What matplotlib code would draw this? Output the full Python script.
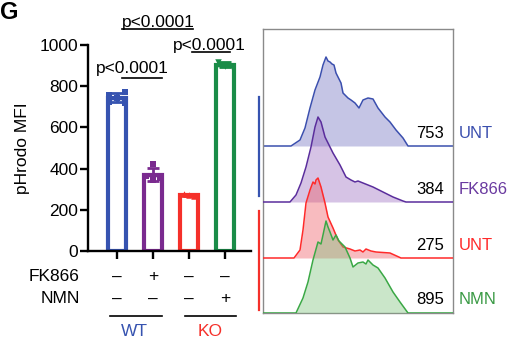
import numpy as np
import matplotlib.pyplot as plt

plt.rcParams['font.family'] = ['Liberation Sans', 'DejaVu Sans']

# bar chart data
groups = ['WT', 'WT', 'KO', 'KO']
fk866 = ['–', '+', '–', '–']
nmn = ['–', '–', '–', '+']
points = [[757, 772, 725, 718, 745],
          [420, 365, 355, 345],
          [278, 270, 268],
          [918, 898, 895]]
bar_colors = ['#3653b0', '#7a2a8f', '#f5302a', '#1a8c48']
markers = ['s', 's', '^', 'v']

# histogram data (channel, count) for each sample, top to bottom
hist_names = ['UNT', 'FK866', 'UNT', 'NMN']
hist_mfi = ['753', '384', '275', '895']
blue_x = [0, 28, 37, 42, 47, 52, 57, 60, 63, 65, 67, 69, 71, 73, 78, 80, 85, 88, 92, 96, 100, 105, 110, 115, 122, 127, 133, 140, 145, 190]
blue_y = [0, 0, 6, 18, 38, 56, 69, 81, 89, 85, 84, 82, 81, 73, 63, 53, 48, 46, 43, 38, 46, 48, 47, 38, 29, 24, 16, 8, 0, 0]
purple_x = [0, 27, 33, 38, 43, 48, 52, 55, 58, 62, 67, 70, 77, 83, 88, 92, 95, 100, 110, 120, 130, 140, 143, 190]
purple_y = [0, 0, 7, 19, 35, 55, 75, 85, 80, 65, 55, 49, 37, 25, 22, 20, 21, 19, 15, 10, 5, 1, 0, 0]
red_x = [0, 31, 37, 40, 43, 47, 50, 52, 53, 55, 58, 62, 65, 70, 75, 80, 87, 92, 97, 100, 103, 108, 113, 127, 138, 190]
red_y = [0, 0, 8, 28, 55, 68, 76, 74, 78, 80, 71, 55, 41, 30, 18, 11, 9, 7, 8, 6, 9, 7, 6, 5, 0, 0]
green_x = [0, 33, 40, 45, 50, 55, 58, 60, 63, 65, 67, 70, 73, 76, 78, 82, 87, 90, 95, 100, 103, 105, 108, 110, 115, 122, 130, 137, 145, 190]
green_y = [0, 0, 15, 31, 53, 71, 69, 78, 92, 86, 81, 73, 78, 72, 70, 66, 55, 46, 50, 51, 49, 53, 50, 48, 45, 35, 21, 11, 0, 0]
hist_x = [blue_x, purple_x, red_x, green_x]
hist_y = [blue_y, purple_y, red_y, green_y]
hist_line = ['#3b4fae', '#5a2d9c', '#ff2a2a', '#3aa845']
hist_fill = ['#6f6fbf', '#9a6bc0', '#ee5560', '#7cc27a']
label_colors = ['#3b4fae', '#6a3aa0', '#ff2a2a', '#3a9a45']

W, H = 523, 342
fig = plt.figure(figsize=(W / 100, H / 100), dpi=100)

def px_axes(x0, y0, x1, y1):
    return fig.add_axes([x0 / W, 1 - y1 / H, (x1 - x0) / W, (y1 - y0) / H])

# ---- bar chart ----
ax = px_axes(88, 45, 251, 251)
xpos = np.arange(4)
means = [np.mean(p) for p in points]
sds = [np.std(p, ddof=1) for p in points]
ax.bar(xpos, means, width=0.5, facecolor='white', edgecolor=bar_colors, linewidth=3.0, zorder=2)
offsets = [[-0.22, 0.22, -0.22, 0.22, 0.0], [0.0, -0.2, 0.2, 0.0], [-0.15, 0.0, 0.15], [-0.2, 0.0, 0.2]]
for i in range(4):
    ax.scatter(i + np.array(offsets[i]), points[i], marker=markers[i], s=22,
               color=bar_colors[i], zorder=3, linewidths=0)
    ax.errorbar(i, means[i], yerr=sds[i], color=bar_colors[i], capsize=4,
                elinewidth=2, capthick=2, zorder=4)
    ax.plot([i - 0.22, i + 0.22], [means[i], means[i]], color=bar_colors[i], lw=2.5, zorder=4)

ax.set_xlim(-0.8, 3.72)
ax.set_ylim(0, 1000)
ax.set_yticks([0, 200, 400, 600, 800, 1000])
ax.set_xticks(xpos)
ax.set_xticklabels([])
for s in ['top', 'right']:
    ax.spines[s].set_visible(False)
for s in ['left', 'bottom']:
    ax.spines[s].set_linewidth(1.7)
ax.tick_params(axis='y', length=5.5, width=1.7, pad=1.5, labelsize=12.5)
ax.tick_params(axis='x', length=6, width=1.7)
fig.text(23 / W, 1 - 148 / H, 'pHrodo MFI', rotation=90, ha='center', va='center', fontsize=12.5)

# significance
sig = [(0.14, 2.11, 1078, 1.14, 1087), (0.14, 1.25, 840, 0.44, 864), (2.08, 3.14, 966, 2.56, 976)]
for x0, x1, yl, xt, yt in sig:
    ax.plot([x0, x1], [yl, yl], color='black', lw=1.2, clip_on=False)
    ax.text(xt, yt, 'p<0.0001', ha='center', va='baseline', fontsize=12.5, clip_on=False)

# treatment table
ax.text(-1.03, -126, 'FK866', ha='right', va='center', fontsize=12.5)
ax.text(-1.03, -233, 'NMN', ha='right', va='center', fontsize=12.5)
for i in range(4):
    ax.text(i, -126, fk866[i], ha='center', va='center', fontsize=12.5)
    ax.text(i, -233, nmn[i], ha='center', va='center', fontsize=12.5)
ax.plot([-0.19, 1.25], [-316, -316], color='black', lw=1.2, clip_on=False)
ax.plot([1.89, 3.31], [-316, -316], color='black', lw=1.2, clip_on=False)
ax.text(0.5, -393, 'WT', ha='center', va='center', fontsize=12.5, color=bar_colors[0])
ax.text(2.58, -393, 'KO', ha='center', va='center', fontsize=12.5, color=bar_colors[2])

fig.text(0.0, 0.998, 'G', ha='left', va='top', fontsize=17, fontweight='bold')

# ---- histograms ----
hx = px_axes(263, 29, 453, 313)
hx.set_xlim(0, 190)
hx.set_ylim(0, 284)
hx.set_xticks([])
hx.set_yticks([])
for s in hx.spines.values():
    s.set_color('#8a8a8a')
    s.set_linewidth(1.0)
bases = [167, 111, 55, 0]
for k in range(4):
    x = np.array(hist_x[k])
    y = np.array(hist_y[k]) + bases[k]
    hx.fill_between(x, bases[k], y, color=hist_fill[k], alpha=0.4, lw=0, zorder=2 + k)
    hx.plot(x, y, color=hist_line[k], lw=1.1, zorder=2 + k)
    hx.text(181, bases[k] + 13, hist_mfi[k], ha='right', va='center', fontsize=12)
    hx.text(196, bases[k] + 13, hist_names[k], ha='left', va='center', fontsize=12,
            color=label_colors[k], clip_on=False)

hx.plot([-4, -4], [117, 216], color='#3653b0', lw=1.6, clip_on=False)
hx.plot([-4, -4], [3, 102], color='#f5302a', lw=1.6, clip_on=False)

fig.savefig('out.png', dpi=100)
